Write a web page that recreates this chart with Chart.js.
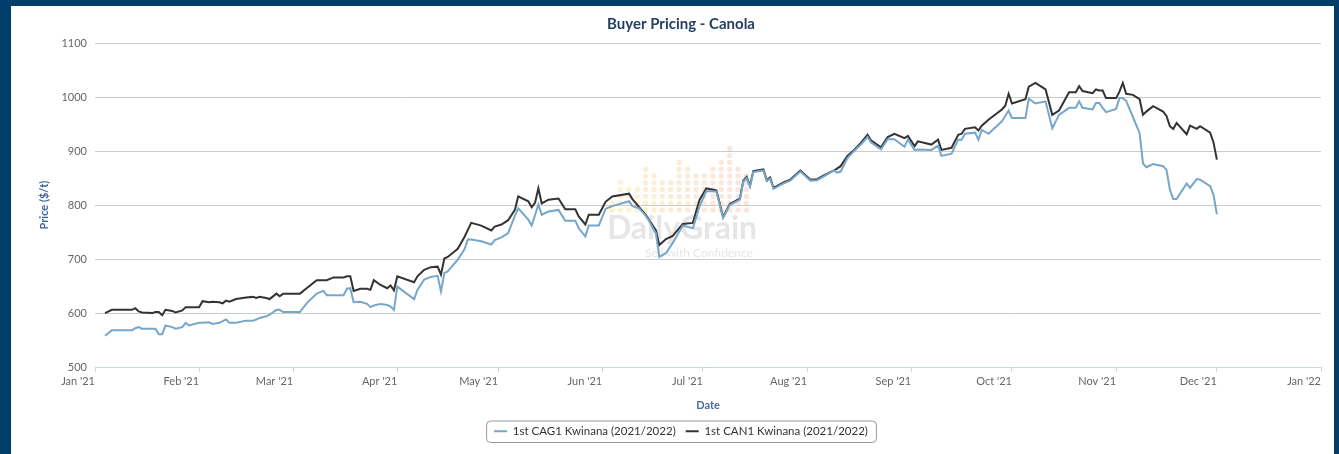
<!DOCTYPE html>
<html lang="en">
<head>
    <meta charset="UTF-8">
    <title>Buyer Pricing - Canola</title>
    <script src="https://cdn.jsdelivr.net/npm/chart.js"></script>
    <style>
        html, body {
            margin: 0;
            padding: 0;
            background-color: #003e6c; /* navy frame around the panel */
            overflow: hidden;
        }
        #panel {
            position: absolute;
            left: 11px;
            top: 6px;
            width: 1323px;
            height: 448px;
            background: white;
        }
    </style>
</head>
<body>

<div id="panel">
    <canvas id="priceChart" width="1323" height="448"></canvas>
</div>

<script>
    // Day of year (0 = 1 Jan 2021) for each price quote
    const days = [
        3, 5, 11, 12, 13, 14, 17, 18, 19, 20,
        21, 23, 24, 26, 27, 28, 31, 32, 34, 35,
        37, 38, 39, 40, 42, 45, 47, 48, 49, 51,
        52, 54, 55, 56, 61, 63, 66, 68, 69, 71,
        74, 75, 76, 77, 79, 81, 82, 83, 85, 87,
        88, 89, 90, 95, 96, 98, 100, 102, 103, 104,
        105, 108, 110, 111, 112, 115, 118, 119, 121, 123,
        125, 126, 129, 130, 131, 132, 133, 135, 138, 140,
        143, 144, 146, 147, 150, 152, 154, 159, 160, 162,
        164, 165, 167, 168, 170, 172, 175, 178, 180, 182,
        185, 187, 189, 192, 193, 194, 195, 196, 199, 200,
        201, 202, 205, 207, 208, 210, 213, 215, 217, 220,
        221, 222, 224, 226, 228, 230, 231, 234, 236, 238,
        241, 242, 244, 245, 249, 251, 252, 255, 257, 258,
        259, 262, 263, 264, 266, 270, 271, 272, 273, 277,
        278, 280, 283, 285, 287, 290, 292, 293, 294, 297,
        298, 299, 300, 301, 304, 305, 306, 307, 309, 311,
        312, 313, 315, 318, 319, 320, 321, 322, 325, 326,
        328, 329, 332, 333, 334
    ];

    // 1st CAG1 Kwinana (2021/2022), $/t
    const cag1 = [
        558, 568, 568, 572, 574, 571, 571, 571, 561, 561,
        577, 574, 571, 574, 582, 577, 582, 582, 583, 580,
        582, 585, 588, 582, 582, 586, 586, 588, 591, 594,
        597, 606, 606, 602, 602, 618, 636, 641, 633, 633,
        633, 645, 646, 620, 621, 617, 611, 614, 617, 615,
        612, 606, 649, 626, 643, 662, 667, 669, 640, 674,
        677, 699, 718, 736, 736, 733, 727, 735, 740, 748,
        780, 794, 773, 762, 781, 801, 782, 788, 791, 771,
        771, 757, 742, 762, 762, 793, 798, 807, 798, 794,
        780, 770, 747, 704, 711, 730, 762, 757, 798, 826,
        825, 776, 800, 810, 843, 850, 834, 861, 864, 844,
        849, 830, 840, 845, 851, 862, 845, 846, 853, 864,
        860, 862, 887, 900, 912, 926, 916, 903, 922, 922,
        908, 921, 902, 903, 902, 910, 891, 895, 921, 921,
        932, 934, 921, 939, 932, 955, 965, 975, 961, 961,
        997, 988, 992, 942, 967, 980, 980, 992, 980, 977,
        989, 989, 980, 972, 978, 998, 998, 993, 963, 933,
        877, 870, 876, 872, 865, 829, 811, 811, 840, 832,
        848, 847, 835, 819, 783
    ];

    // 1st CAN1 Kwinana (2021/2022), $/t
    const can1 = [
        600, 606, 606, 609, 603, 601, 600, 602, 602, 596,
        606, 604, 601, 605, 611, 611, 611, 622, 620, 621,
        620, 618, 623, 621, 626, 629, 630, 628, 630, 628,
        626, 636, 631, 636, 636, 646, 661, 661, 661, 666,
        666, 668, 668, 641, 645, 645, 643, 661, 652, 646,
        651, 642, 668, 657, 668, 680, 685, 686, 671, 701,
        704, 719, 741, 754, 767, 762, 753, 760, 764, 772,
        791, 816, 807, 796, 804, 831, 803, 810, 812, 792,
        792, 779, 764, 782, 782, 806, 816, 821, 811, 796,
        782, 772, 753, 726, 737, 743, 765, 767, 810, 831,
        827, 778, 802, 812, 845, 852, 836, 863, 866, 846,
        851, 832, 842, 847, 853, 864, 847, 848, 855, 864,
        868, 872, 891, 902, 915, 930, 920, 907, 926, 932,
        924, 928, 909, 918, 912, 921, 902, 906, 930, 932,
        941, 944, 938, 947, 958, 977, 984, 1006, 988, 996,
        1019, 1026, 1014, 967, 975, 1009, 1009, 1020, 1011, 1007,
        1014, 1012, 1012, 998, 998, 1010, 1026, 1006, 1004, 996,
        967, 973, 983, 973, 965, 946, 941, 952, 931, 947,
        941, 946, 934, 916, 884
    ];

    // Month boundaries for the x axis
    const monthStarts = [0, 31, 59, 90, 120, 151, 181, 212, 243, 273, 304, 334, 365];
    const monthLabels = ["Jan '21", "Feb '21", "Mar '21", "Apr '21", "May '21", "Jun '21", "Jul '21",
                         "Aug '21", "Sep '21", "Oct '21", "Nov '21", "Dec '21", "Jan '22"];

    const yTicks = [500, 600, 700, 800, 900, 1000, 1100];

    const FONT = 'Lato, "Open Sans", sans-serif';

    function toPoints(values) {
        return values.map((v, i) => ({ x: days[i], y: v }));
    }

    // Faint "DailyGrain" logo behind the lines
    const logoHeights = [2, 5, 4, 4, 7, 6, 5, 5, 8, 7, 6, 6, 7, 8, 10, 7, 6];
    const watermark = {
        id: 'watermark',
        beforeDatasetsDraw(chart) {
            const ctx = chart.ctx;
            const cx = 671;   // centre of the logo in canvas pixels
            ctx.save();
            // bars of little rounded squares, yellow on the left to salmon on the right
            const baseY = 204;
            logoHeights.forEach((h, i) => {
                const x = cx - 70 + i * 8.4;
                const t = i / (logoHeights.length - 1);
                const r = Math.round(250 - 10 * t);
                const g = Math.round(220 - 40 * t);
                const b = Math.round(120 + 40 * t);
                ctx.fillStyle = `rgba(${r},${g},${b},0.35)`;
                for (let k = 0; k < h; k++) {
                    const y = baseY - k * 6.8;
                    ctx.beginPath();
                    ctx.roundRect(x - 2.5, y - 2.5, 5, 5, 1.5);
                    ctx.fill();
                }
            });
            ctx.fillStyle = 'rgba(200, 200, 200, 0.45)';
            ctx.textAlign = 'center';
            ctx.textBaseline = 'middle';
            ctx.font = 'bold 32px ' + FONT;
            ctx.fillText('DailyGrain', cx, 223);
            ctx.font = '12px ' + FONT;
            ctx.fillText('Sell with Confidence', cx + 17, 247);
            ctx.restore();
        }
    };

    // Rounded border drawn around the legend entries
    const legendBorder = {
        id: 'legendBorder',
        afterDraw(chart) {
            const legend = chart.legend;
            if (!legend || !legend.legendHitBoxes.length) return;
            const boxes = legend.legendHitBoxes;
            const left = Math.min(...boxes.map(b => b.left)) - 8;
            const right = Math.max(...boxes.map(b => b.left + b.width)) + 8;
            const top = Math.min(...boxes.map(b => b.top)) - 5;
            const bottom = Math.max(...boxes.map(b => b.top + b.height)) + 5;
            const ctx = chart.ctx;
            ctx.save();
            ctx.strokeStyle = '#999999';
            ctx.lineWidth = 1;
            ctx.beginPath();
            ctx.roundRect(left + 0.5, top + 0.5, right - left, bottom - top, 4);
            ctx.stroke();
            ctx.restore();
        }
    };

    const ctx = document.getElementById('priceChart').getContext('2d');

    new Chart(ctx, {
        type: 'line',
        data: {
            datasets: [
                {
                    label: '1st CAG1 Kwinana (2021/2022)',
                    data: toPoints(cag1),
                    borderColor: '#76a7ca',
                    backgroundColor: '#76a7ca',
                    borderWidth: 2,
                    pointRadius: 0,
                    tension: 0,
                    fill: false
                },
                {
                    label: '1st CAN1 Kwinana (2021/2022)',
                    data: toPoints(can1),
                    borderColor: '#333333',
                    backgroundColor: '#333333',
                    borderWidth: 2,
                    pointRadius: 0,
                    tension: 0,
                    fill: false
                }
            ]
        },
        options: {
            responsive: false,
            animation: false,
            layout: {
                padding: { left: 17, right: 0, top: 0, bottom: 7 }
            },
            scales: {
                x: {
                    type: 'linear',
                    min: 0,
                    max: 365,
                    afterBuildTicks(scale) {
                        scale.ticks = monthStarts.map(v => ({ value: v }));
                    },
                    afterFit(scale) {
                        scale.paddingLeft = 0;
                        scale.paddingRight = 13;
                    },
                    ticks: {
                        autoSkip: false,
                        maxRotation: 0,
                        align: 'end',
                        padding: 3,
                        color: '#666666',
                        font: { family: FONT, size: 11 },
                        callback: (value) => monthLabels[monthStarts.indexOf(value)]
                    },
                    grid: {
                        drawOnChartArea: false,
                        drawTicks: true,
                        tickLength: 5,
                        color: '#ccd6eb'
                    },
                    border: { color: '#ccd6eb' },
                    title: {
                        display: true,
                        text: 'Date',
                        color: '#4a6c96',
                        font: { family: FONT, size: 11, weight: 'bold' },
                        padding: { top: 8, bottom: 3 }
                    }
                },
                y: {
                    min: 500,
                    max: 1100,
                    afterBuildTicks(scale) {
                        scale.ticks = yTicks.map(v => ({ value: v }));
                    },
                    afterFit(scale) {
                        scale.width = 67;
                    },
                    ticks: {
                        padding: 8,
                        color: '#666666',
                        font: { family: FONT, size: 11 },
                        callback: (value) => String(value)
                    },
                    grid: {
                        color: '#cccccc',
                        drawTicks: false
                    },
                    border: { display: false },
                    title: {
                        display: true,
                        text: 'Price ($/t)',
                        color: '#3b639a',
                        font: { family: FONT, size: 11, weight: 'bold' },
                        padding: { top: 10, bottom: 0 }
                    }
                }
            },
            plugins: {
                title: {
                    display: true,
                    text: 'Buyer Pricing - Canola',
                    color: '#233f63',
                    font: { family: FONT, size: 15, weight: 'bold' },
                    padding: { top: 9, bottom: 10 }
                },
                legend: {
                    position: 'bottom',
                    labels: {
                        usePointStyle: true,
                        pointStyle: 'line',
                        pointStyleWidth: 13,
                        color: '#333333',
                        padding: 10,
                        font: { family: FONT, size: 11.5 }
                    }
                },
                tooltip: { enabled: false }
            }
        },
        plugins: [watermark, legendBorder]
    });
</script>

</body>
</html>
